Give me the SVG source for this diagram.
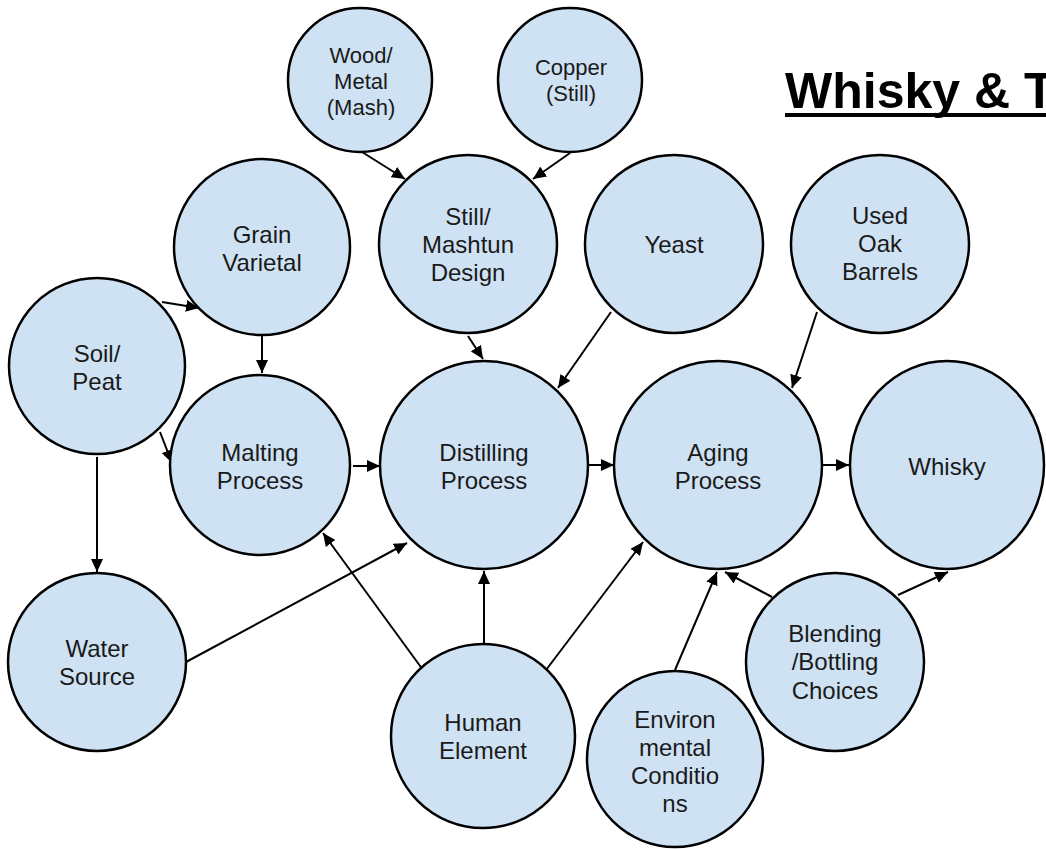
<svg xmlns="http://www.w3.org/2000/svg" width="1046" height="849" viewBox="0 0 1046 849">
<style>
.n circle,.n ellipse{fill:#cfe2f3;stroke:#000;stroke-width:2.5}
.n text{font-family:"Liberation Sans",Arial,sans-serif;font-size:24px;fill:#1a1a1a;text-anchor:middle}
.n.sm text{font-size:22px}
.e line{stroke:#000;stroke-width:2;marker-end:url(#ah)}
.title{font-family:"Liberation Sans",Arial,sans-serif;font-size:50px;font-weight:bold;fill:#000}
</style>
<defs>
<marker id="ah" markerUnits="userSpaceOnUse" markerWidth="14" markerHeight="12" refX="13" refY="6" orient="auto">
<path d="M0,0 L13,6 L0,12 Z" fill="#000"/>
</marker>
</defs>
<rect width="1046" height="849" fill="#fff"/>
<g id="title">
<text class="title" x="785" y="108">Whisky &amp; T</text>
<rect x="785" y="113" width="270" height="4" fill="#000"/>
</g>
<g id="connectors" class="e">
<line x1="362" y1="152" x2="405" y2="179"/>
<line x1="570" y1="153" x2="533" y2="179"/>
<line x1="468" y1="336" x2="483" y2="359"/>
<line x1="611" y1="312" x2="558" y2="388"/>
<line x1="817" y1="312" x2="792" y2="388"/>
<line x1="588" y1="465" x2="614" y2="465"/>
<line x1="822" y1="465" x2="849" y2="465"/>
<line x1="353" y1="466" x2="380" y2="466"/>
<line x1="162" y1="302" x2="199" y2="308"/>
<line x1="262" y1="336" x2="262" y2="373"/>
<line x1="160" y1="432" x2="172" y2="463"/>
<line x1="97" y1="457" x2="97" y2="572"/>
<line x1="186" y1="662" x2="407" y2="543"/>
<line x1="423" y1="670" x2="323" y2="533"/>
<line x1="484" y1="643" x2="484" y2="571"/>
<line x1="546" y1="670" x2="643" y2="542"/>
<line x1="675" y1="670" x2="717" y2="572"/>
<line x1="772" y1="597" x2="725" y2="572"/>
<line x1="898" y1="595" x2="948" y2="572"/>
</g>
<g id="wood" class="n sm"><circle cx="360" cy="80" r="72"/><text x="361" y="63">Wood/</text><text x="361" y="89">Metal</text><text x="361" y="115">(Mash)</text></g>
<g id="copper" class="n sm"><circle cx="570" cy="80" r="72"/><text x="571" y="75">Copper</text><text x="571" y="101">(Still)</text></g>
<g id="grain" class="n"><circle cx="262" cy="247" r="88"/><text x="262" y="243">Grain</text><text x="262" y="271">Varietal</text></g>
<g id="still" class="n"><circle cx="468" cy="244" r="89"/><text x="468" y="225">Still/</text><text x="468" y="253">Mashtun</text><text x="468" y="281">Design</text></g>
<g id="yeast" class="n"><circle cx="674" cy="244" r="89"/><text x="674" y="253">Yeast</text></g>
<g id="oak" class="n"><circle cx="880" cy="244" r="89"/><text x="880" y="224">Used</text><text x="880" y="252">Oak</text><text x="880" y="280">Barrels</text></g>
<g id="soil" class="n"><circle cx="97" cy="366" r="88"/><text x="97" y="362">Soil/</text><text x="97" y="390">Peat</text></g>
<g id="malting" class="n"><circle cx="260" cy="465" r="90"/><text x="260" y="461">Malting</text><text x="260" y="489">Process</text></g>
<g id="distilling" class="n"><circle cx="484" cy="465" r="104"/><text x="484" y="461">Distilling</text><text x="484" y="489">Process</text></g>
<g id="aging" class="n"><circle cx="718" cy="465" r="104"/><text x="718" y="461">Aging</text><text x="718" y="489">Process</text></g>
<g id="whisky" class="n"><ellipse cx="947" cy="465" rx="97" ry="104"/><text x="947" y="475">Whisky</text></g>
<g id="water" class="n"><circle cx="97" cy="662" r="89"/><text x="97" y="657">Water</text><text x="97" y="685">Source</text></g>
<g id="human" class="n"><circle cx="483" cy="736" r="92"/><text x="483" y="731">Human</text><text x="483" y="759">Element</text></g>
<g id="env" class="n"><circle cx="675" cy="759" r="88"/><text x="675" y="728">Environ</text><text x="675" y="756">mental</text><text x="675" y="784">Conditio</text><text x="675" y="812">ns</text></g>
<g id="blend" class="n"><circle cx="835" cy="662" r="89"/><text x="835" y="642">Blending</text><text x="835" y="670">/Bottling</text><text x="835" y="699">Choices</text></g>
</svg>
